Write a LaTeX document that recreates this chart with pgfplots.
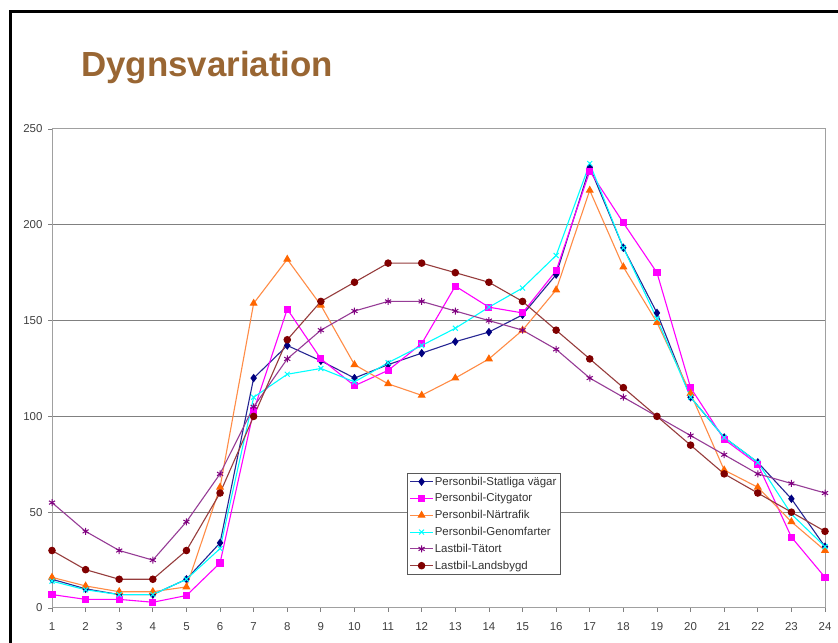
\documentclass[border=0pt]{standalone}
\usepackage{pgfplots}
\usepackage{pgfplotstable}
\pgfplotsset{compat=1.18}
\usepackage{fontspec}
\setmainfont{Liberation Sans}
\definecolor{titlebrown}{RGB}{153,102,51}
\definecolor{snavy}{RGB}{0,0,128}
\definecolor{smag}{RGB}{255,0,255}
\definecolor{sorange}{RGB}{255,102,0}
\definecolor{sorangel}{RGB}{255,140,70}
\definecolor{scyan}{RGB}{0,255,255}
\definecolor{spurple}{RGB}{128,0,128}
\definecolor{spurplel}{RGB}{150,60,150}
\definecolor{smaroon}{RGB}{128,0,0}
\definecolor{smaroonl}{RGB}{150,60,60}
\definecolor{gridgray}{RGB}{128,128,128}
\definecolor{boxgray}{RGB}{160,160,160}
\pgfplotstableread{
h  sv   cg   nt   gf   tt   lb
1  15   7    16   14   55   30
2  10   4.5  11.5 9.5  40   20
3  7    4.5  8.5  7    30   15
4  7    3    8.5  7    25   15
5  15   6.5  11   15   45   30
6  34   23.5 63   31   70   60
7  120  103  159  110  105  100
8  137  156  182  122  130  140
9  129  130  158  125  145  160
10 120  116  127  118  155  170
11 127  124  117  128  160  180
12 133  138  111  137  160  180
13 139  168  120  146  155  175
14 144  157  130  157  150  170
15 153  154  145  167  145  160
16 174  176  166  184  135  145
17 230  228  218  232  120  130
18 188  201  178  188  110  115
19 154  175  149  151  100  100
20 110  115  112  110  90   85
21 89   88   72   89   80   70
22 76   75   63   76   70   60
23 57   37   45   49   65   50
24 32   16   30   32   60   40
}\datatable
\begin{document}
\begin{tikzpicture}[x=1bp,y=1bp]
\path[use as bounding box,fill=white] (0,0) rectangle (838,643);
\draw[black,line width=3.5bp] (10.3,0) -- (10.3,631.5) -- (838,631.5);
\node[anchor=base west,font=\fontsize{35}{40}\selectfont\bfseries,text=titlebrown,inner sep=0pt] at (81,566) {Dygnsvariation};
\begin{axis}[
  at={(52bp,35bp)}, anchor=south west,
  scale only axis, width=773bp, height=479bp,
  xmin=1, xmax=24, ymin=0, ymax=250,
  xtick={1,...,24},
  ytick={50,100,150,200},
  extra y ticks={0,250},
  extra y tick style={grid=none},
  ymajorgrids,
  major grid style={gridgray,line width=1.3bp},
  axis line style={boxgray,line width=1bp},
  tick pos=left,
  tick align=outside,
  major tick length=4bp,
  tick style={gridgray,line width=0.8bp},
  ticklabel style={font=\fontsize{11.5}{13}\selectfont,text=black!75},
  /pgf/number format/assume math mode=true,
  xticklabel style={yshift=-7bp},
  yticklabel style={xshift=-2bp},
  clip=false,
  legend cell align=left,
  legend image code/.code={\draw[mark repeat=2,mark phase=2] plot coordinates {(0bp,0bp) (11.5bp,0bp) (23bp,0bp)};},
  legend style={at={(0.459,0.282)}, anchor=north west, draw=black!65, fill=white,
    font=\fontsize{11.5}{13}\selectfont, text=black!80,
    inner xsep=2.5bp, inner ysep=2.5bp, row sep=4.6bp,
    nodes={inner sep=1.2bp}},
]
\addplot[snavy!85!white, line width=1.1bp, mark=diamond*, mark size=3.4bp, mark options={snavy,fill=snavy,solid}] table[x=h,y=sv] {\datatable};
\addlegendentry{Personbil-Statliga vägar}
\addplot[smag, line width=1.1bp, mark=square*, mark size=3bp, mark options={smag,fill=smag,solid}] table[x=h,y=cg] {\datatable};
\addlegendentry{Personbil-Citygator}
\addplot[sorangel, line width=1.1bp, mark=triangle*, mark size=3.6bp, mark options={sorange,fill=sorange,solid}] table[x=h,y=nt] {\datatable};
\addlegendentry{Personbil-Närtrafik}
\addplot[scyan, line width=1.1bp, mark=x, mark size=3.5bp, mark options={scyan,line width=1bp,solid}] table[x=h,y=gf] {\datatable};
\addlegendentry{Personbil-Genomfarter}
\addplot[spurplel, line width=1.1bp, mark=asterisk, mark size=3.5bp, mark options={spurple,line width=1bp,solid}] table[x=h,y=tt] {\datatable};
\addlegendentry{Lastbil-Tätort}
\addplot[smaroonl, line width=1.1bp, mark=*, mark size=3.2bp, mark options={smaroon,fill=smaroon,solid}] table[x=h,y=lb] {\datatable};
\addlegendentry{Lastbil-Landsbygd}
\end{axis}
\end{tikzpicture}
\end{document}
